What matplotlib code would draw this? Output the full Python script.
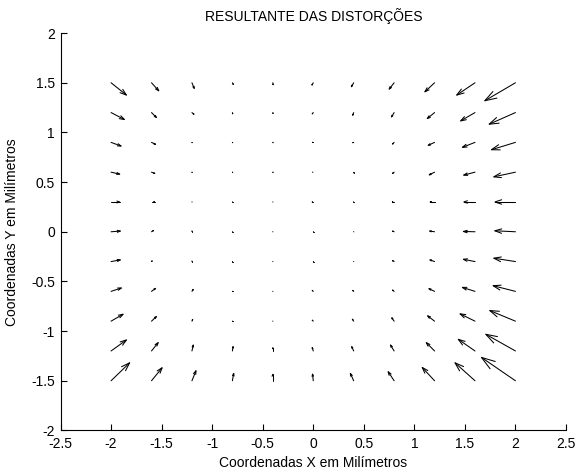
import numpy as np
import matplotlib
matplotlib.use("Agg")
import matplotlib.pyplot as plt
from matplotlib.collections import LineCollection

plt.rcParams['font.family'] = ['Liberation Sans', 'DejaVu Sans']

title = "RESULTANTE DAS DISTORÇÕES"
xlabel = "Coordenadas X em Milímetros"
ylabel = "Coordenadas Y em Milímetros"

x_grid = [-2.0, -1.6, -1.2, -0.8, -0.4, 0.0, 0.4, 0.8, 1.2, 1.6, 2.0]
y_grid = [1.5, 1.2, 0.9, 0.6, 0.3, 0.0, -0.3, -0.6, -0.9, -1.2, -1.5]

# horizontal component (rows follow y_grid, columns follow x_grid)
U = [
    [0.152, 0.072, 0.023, 0.010, 0.003, -0.013, -0.023, -0.049, -0.096, -0.181, -0.303],
    [0.132, 0.049, 0.020, 0.003, 0.003, -0.010, -0.010, -0.026, -0.072, -0.142, -0.260],
    [0.099, 0.040, 0.003, 0.003, 0.003, -0.010, -0.010, -0.016, -0.063, -0.125, -0.237],
    [0.086, 0.033, 0.003, 0.003, 0.003, -0.007, 0.000, -0.016, -0.053, -0.112, -0.214],
    [0.086, 0.033, 0.003, 0.003, 0.003, -0.013, -0.003, -0.020, -0.046, -0.112, -0.204],
    [0.092, 0.020, 0.000, 0.003, 0.003, 0.003, 0.003, -0.016, -0.049, -0.115, -0.204],
    [0.092, 0.007, 0.000, 0.003, 0.003, 0.003, 0.003, -0.016, -0.046, -0.115, -0.214],
    [0.102, 0.040, 0.013, 0.003, 0.003, -0.010, -0.010, -0.016, -0.056, -0.125, -0.221],
    [0.119, 0.049, 0.007, 0.003, 0.003, -0.010, -0.013, -0.023, -0.069, -0.148, -0.254],
    [0.152, 0.066, 0.013, 0.007, 0.000, -0.010, -0.020, -0.036, -0.082, -0.165, -0.293],
    [0.184, 0.105, 0.040, 0.013, 0.000, -0.007, -0.033, -0.059, -0.122, -0.198, -0.336],
]

# vertical component
V = [
    [-0.124, -0.081, -0.057, -0.017, -0.020, -0.023, -0.040, -0.064, -0.091, -0.124, -0.181],
    [-0.070, -0.050, -0.017, -0.013, -0.010, -0.013, -0.027, -0.044, -0.060, -0.084, -0.117],
    [-0.037, -0.020, -0.003, -0.003, -0.003, 0.000, -0.003, -0.017, -0.030, -0.050, -0.074],
    [-0.020, -0.013, -0.003, -0.003, -0.003, 0.000, -0.010, -0.013, -0.027, -0.030, -0.047],
    [0.000, 0.000, 0.000, 0.000, 0.000, 0.000, 0.000, 0.000, 0.000, 0.000, 0.000],
    [0.007, 0.013, 0.010, 0.000, 0.000, 0.000, 0.000, 0.007, 0.007, 0.003, 0.010],
    [0.017, 0.007, 0.007, 0.000, 0.000, 0.000, 0.000, 0.010, 0.017, 0.023, 0.034],
    [0.034, 0.030, 0.020, 0.000, 0.000, 0.010, 0.010, 0.013, 0.027, 0.040, 0.057],
    [0.070, 0.047, 0.017, 0.000, 0.000, 0.010, 0.020, 0.034, 0.054, 0.074, 0.107],
    [0.111, 0.084, 0.060, 0.044, 0.034, 0.034, 0.044, 0.060, 0.084, 0.117, 0.168],
    [0.181, 0.131, 0.101, 0.074, 0.067, 0.067, 0.074, 0.091, 0.134, 0.181, 0.235],
]

x_ticks = [-2.5, -2, -1.5, -1, -0.5, 0, 0.5, 1, 1.5, 2, 2.5]
x_ticklabels = ["-2.5", "-2", "-1.5", "-1", "-0.5", "0", "0.5", "1", "1.5", "2", "2.5"]
y_ticks = [-2, -1.5, -1, -0.5, 0, 0.5, 1, 1.5, 2]
y_ticklabels = ["-2", "-1.5", "-1", "-0.5", "0", "0.5", "1", "1.5", "2"]

fig = plt.figure(figsize=(5.77, 4.73), dpi=100)
ax = fig.add_axes([0.1049, 0.090, 0.876, 0.840])

X, Y = np.meshgrid(np.array(x_grid), np.array(y_grid))
Ua = np.array(U)
Va = np.array(V)
xs, ys, us, vs = X.ravel(), Y.ravel(), Ua.ravel(), Va.ravel()

# MATLAB-style quiver: shaft line plus two open head lines
alpha, beta, eps = 0.33, 0.33, 1e-12
segs = []
for x0, y0, u, v in zip(xs, ys, us, vs):
    tx, ty = x0 + u, y0 + v
    segs.append([(x0, y0), (tx, ty)])
    h1 = (tx - alpha * (u + beta * (v + eps)), ty - alpha * (v - beta * (u + eps)))
    h2 = (tx - alpha * (u - beta * (v + eps)), ty - alpha * (v + beta * (u + eps)))
    segs.append([h1, (tx, ty), h2])

lc = LineCollection(segs, colors='black', linewidths=0.75, capstyle='round', joinstyle='miter')
ax.add_collection(lc)

ax.set_xlim(-2.5, 2.5)
ax.set_ylim(-2, 2)
ax.set_xticks(x_ticks)
ax.set_xticklabels(x_ticklabels)
ax.set_yticks(y_ticks)
ax.set_yticklabels(y_ticklabels)
ax.tick_params(direction='in', length=4, width=0.8, labelsize=10, colors='black')
ax.tick_params(axis='x', pad=5)
ax.tick_params(axis='y', pad=4)
ax.spines['top'].set_visible(False)
ax.spines['right'].set_visible(False)
for s in ['left', 'bottom']:
    ax.spines[s].set_linewidth(0.8)

ax.set_title(title, fontsize=10, pad=9)
ax.set_xlabel(xlabel, fontsize=10, labelpad=3)
ax.set_ylabel(ylabel, fontsize=10, labelpad=9)

fig.savefig("out.png", dpi=100)
